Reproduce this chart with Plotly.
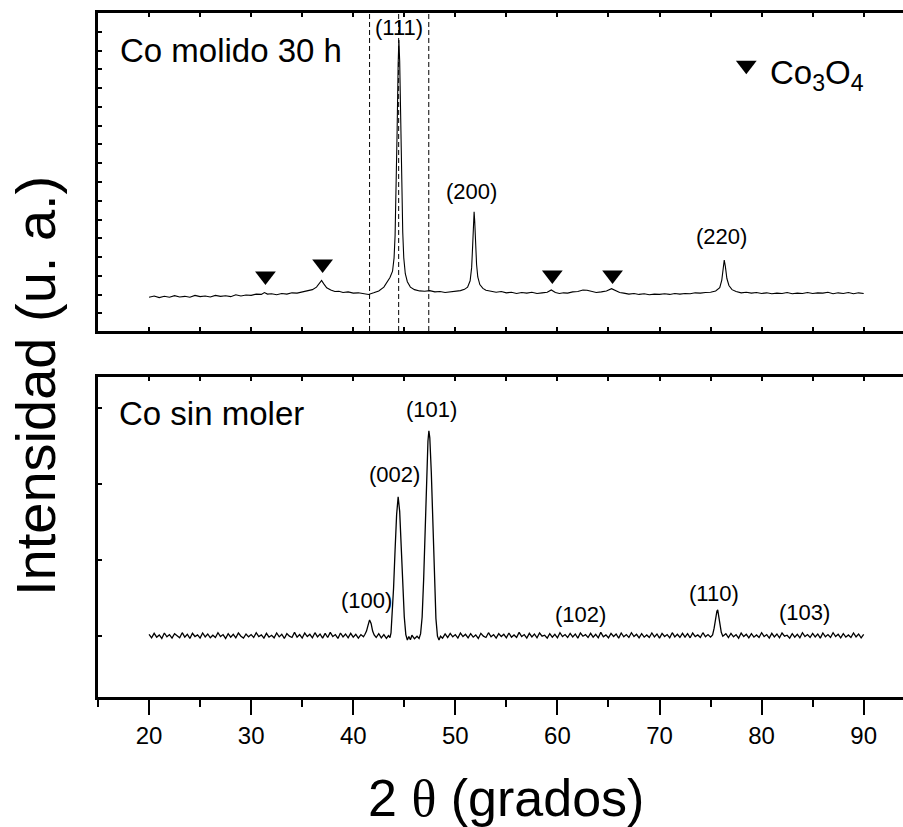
import plotly.graph_objects as go

# ---------------- data ----------------
# Top panel: "Co molido 30 h"
mol_2theta = [
    20.0, 20.5, 21.0, 21.5, 22.0, 22.5, 23.0, 23.5, 24.0, 24.5,
    25.0, 25.5, 26.0, 26.5, 27.0, 27.5, 28.0, 28.5, 29.0, 29.5,
    30.0, 30.5, 31.0, 31.3, 31.6, 32.0, 32.5, 33.0, 33.5, 34.0,
    34.5, 35.0, 35.5, 36.0, 36.4, 36.7, 36.9, 37.1, 37.4, 37.8,
    38.2, 38.6, 39.0, 39.5, 40.0, 40.5, 41.0, 41.5, 42.0, 42.5,
    43.0, 43.3, 43.6, 43.85, 44.0, 44.1, 44.2, 44.3, 44.4, 44.47,
    44.55, 44.65, 44.75, 44.85, 44.95, 45.1, 45.3, 45.6, 46.0, 46.5,
    47.0, 47.5, 48.0, 48.5, 49.0, 49.5, 50.0, 50.5, 50.9, 51.2,
    51.45, 51.6, 51.7, 51.78, 51.84, 51.9, 51.98, 52.08, 52.2, 52.4,
    52.7, 53.0, 53.5, 54.0, 54.5, 55.0, 55.5, 56.0, 56.5, 57.0,
    57.5, 58.0, 58.5, 59.0, 59.4, 59.8, 60.2, 60.6, 61.0, 61.5,
    62.0, 62.5, 62.9, 63.3, 63.8, 64.3, 64.8, 65.3, 65.7, 66.1,
    66.5, 67.0, 67.5, 68.0, 68.5, 69.0, 69.5, 70.0, 70.5, 71.0,
    71.5, 72.0, 72.5, 73.0, 73.5, 74.0, 74.5, 75.0, 75.5, 75.9,
    76.1, 76.25, 76.34, 76.45, 76.6, 76.8, 77.1, 77.5, 78.0, 78.5,
    79.0, 79.5, 80.0, 80.5, 81.0, 81.5, 82.0, 82.5, 83.0, 83.5,
    84.0, 84.5, 85.0, 85.5, 86.0, 86.5, 87.0, 87.5, 88.0, 88.5,
    89.0, 89.5, 90.0,
]
mol_int = [
    10.6, 11.0, 10.5, 10.9, 10.6, 11.1, 10.7, 10.9, 10.6, 11.2,
    10.8, 11.0, 10.7, 11.2, 10.9, 11.1, 10.8, 11.4, 11.0, 11.3,
    11.2, 11.6, 11.5, 12.1, 11.6, 11.7, 11.4, 11.8, 11.6, 12.0,
    11.9, 12.3, 12.5, 13.0, 13.8, 14.9, 15.9, 14.9, 13.6, 12.9,
    12.4, 12.5, 12.1, 12.3, 11.9, 12.0, 11.7, 11.5, 12.0, 12.6,
    13.8, 15.3, 16.8, 18.8, 23.0, 30.0, 43.0, 63.0, 84.0, 91.5,
    85.0, 64.0, 44.0, 31.0, 23.0, 18.0, 15.5, 13.8, 13.0, 12.6,
    12.5, 12.7, 12.3, 12.4, 12.1, 12.3, 12.4, 12.7, 13.1, 13.8,
    15.8, 20.0, 27.0, 34.0, 37.5, 34.5, 28.0, 21.0, 17.0, 14.6,
    13.4, 12.8, 12.5, 12.2, 12.4, 12.0, 12.2, 11.8, 12.1, 11.9,
    12.2, 11.8, 12.0, 12.2, 12.9, 12.1, 11.8, 12.0, 11.9, 12.3,
    12.4, 12.9, 12.8, 12.4, 12.1, 12.3, 12.6, 13.3, 12.6, 12.1,
    11.9, 11.6, 11.8, 11.5, 11.7, 11.4, 11.6, 11.5, 11.7, 11.5,
    11.8, 11.6, 11.8, 11.7, 12.0, 11.9, 12.1, 12.2, 12.6, 13.6,
    16.0, 20.5, 22.3, 20.3, 16.5, 14.3, 13.0, 12.4, 12.0, 12.2,
    11.9, 12.1, 11.8, 12.0, 11.7, 11.9, 11.8, 12.1, 11.7, 11.9,
    11.8, 12.1, 11.8, 12.0, 11.9, 12.2, 11.7, 12.0, 11.8, 12.1,
    11.7, 12.0, 11.8,
]

# Bottom panel: "Co sin moler"
sin_2theta = [
    20.00, 20.25, 20.50, 20.75, 21.00, 21.25, 21.50, 21.75, 22.00, 22.25,
    22.50, 22.75, 23.00, 23.25, 23.50, 23.75, 24.00, 24.25, 24.50, 24.75,
    25.00, 25.25, 25.50, 25.75, 26.00, 26.25, 26.50, 26.75, 27.00, 27.25,
    27.50, 27.75, 28.00, 28.25, 28.50, 28.75, 29.00, 29.25, 29.50, 29.75,
    30.00, 30.25, 30.50, 30.75, 31.00, 31.25, 31.50, 31.75, 32.00, 32.25,
    32.50, 32.75, 33.00, 33.25, 33.50, 33.75, 34.00, 34.25, 34.50, 34.75,
    35.00, 35.25, 35.50, 35.75, 36.00, 36.25, 36.50, 36.75, 37.00, 37.25,
    37.50, 37.75, 38.00, 38.25, 38.50, 38.75, 39.00, 39.25, 39.50, 39.75,
    40.00, 40.25, 40.50, 40.75, 41.00, 41.15, 41.30, 41.45, 41.60, 41.75,
    41.90, 42.05, 42.25, 42.50, 42.75, 43.00, 43.25, 43.45, 43.60, 43.70,
    43.80, 43.95, 44.10, 44.25, 44.40, 44.55, 44.70, 44.85, 45.00, 45.15,
    45.30, 45.45, 45.60, 45.75, 46.00, 46.25, 46.45, 46.60, 46.75, 46.90,
    47.05, 47.20, 47.32, 47.41, 47.50, 47.65, 47.80, 47.95, 48.10, 48.25,
    48.40, 48.55, 48.75, 49.00, 49.25, 49.50, 49.75, 50.00, 50.25, 50.50,
    50.75, 51.00, 51.25, 51.50, 51.75, 52.00, 52.25, 52.50, 52.75, 53.00,
    53.25, 53.50, 53.75, 54.00, 54.25, 54.50, 54.75, 55.00, 55.25, 55.50,
    55.75, 56.00, 56.25, 56.50, 56.75, 57.00, 57.25, 57.50, 57.75, 58.00,
    58.25, 58.50, 58.75, 59.00, 59.25, 59.50, 59.75, 60.00, 60.25, 60.50,
    60.75, 61.00, 61.25, 61.50, 61.75, 62.00, 62.25, 62.50, 62.75, 63.00,
    63.25, 63.50, 63.75, 64.00, 64.25, 64.50, 64.75, 65.00, 65.25, 65.50,
    65.75, 66.00, 66.25, 66.50, 66.75, 67.00, 67.25, 67.50, 67.75, 68.00,
    68.25, 68.50, 68.75, 69.00, 69.25, 69.50, 69.75, 70.00, 70.25, 70.50,
    70.75, 71.00, 71.25, 71.50, 71.75, 72.00, 72.25, 72.50, 72.75, 73.00,
    73.25, 73.50, 73.75, 74.00, 74.25, 74.50, 74.75, 75.00, 75.20, 75.35,
    75.50, 75.62, 75.70, 75.80, 75.92, 76.05, 76.20, 76.50, 76.75, 77.00,
    77.25, 77.50, 77.75, 78.00, 78.25, 78.50, 78.75, 79.00, 79.25, 79.50,
    79.75, 80.00, 80.25, 80.50, 80.75, 81.00, 81.25, 81.50, 81.75, 82.00,
    82.25, 82.50, 82.75, 83.00, 83.25, 83.50, 83.75, 84.00, 84.25, 84.50,
    84.75, 85.00, 85.25, 85.50, 85.75, 86.00, 86.25, 86.50, 86.75, 87.00,
    87.25, 87.50, 87.75, 88.00, 88.25, 88.50, 88.75, 89.00, 89.25, 89.50,
    89.75, 90.00,
]
sin_int = [
    19.6, 18.5, 19.9, 18.7, 19.4, 18.3, 20.0, 18.8, 19.5, 18.4,
    19.8, 19.0, 18.5, 20.1, 18.7, 19.6, 18.3, 19.9, 18.9, 19.4,
    18.4, 20.0, 18.8, 19.7, 18.5, 19.3, 18.6, 20.1, 18.9, 19.5,
    18.3, 19.8, 18.7, 19.6, 18.5, 20.0, 19.0, 18.4, 19.7, 18.8,
    19.5, 18.6, 20.1, 18.9, 19.4, 18.4, 19.9, 18.7, 19.3, 18.5,
    20.0, 18.8, 19.6, 18.3, 19.8, 19.0, 18.6, 20.2, 18.7, 19.5,
    18.4, 20.0, 18.9, 19.6, 18.5, 20.1, 18.8, 19.7, 18.4, 19.9,
    18.6, 20.2, 18.9, 19.5, 18.3, 20.0, 18.8, 19.7, 18.5, 19.9,
    18.7, 19.6, 18.4, 19.5, 18.8, 19.6, 20.6, 22.4, 24.1, 23.0,
    20.6, 19.4, 18.6, 19.8, 18.5, 19.5, 18.3, 19.2, 18.6, 20.0,
    24.5, 34.0, 46.0, 57.0, 62.6, 58.0, 47.0, 35.0, 25.0, 19.5,
    17.8, 18.9, 17.9, 19.3, 18.2, 19.0, 18.3, 19.8, 25.0, 37.0,
    53.0, 70.0, 80.0, 83.2, 81.0, 70.0, 53.0, 36.0, 24.5, 19.0,
    17.8, 19.0, 18.4, 19.7, 18.6, 19.9, 18.8, 19.5, 18.4, 20.0,
    18.9, 19.6, 18.5, 19.8, 18.7, 19.4, 18.3, 19.9, 19.0, 18.6,
    20.1, 18.8, 19.5, 18.4, 19.8, 18.9, 19.6, 18.5, 20.0, 18.7,
    19.4, 18.6, 20.2, 18.9, 19.5, 18.4, 19.9, 18.8, 19.7, 18.5,
    20.0, 19.0, 19.3, 18.4, 19.8, 18.7, 19.6, 18.5, 20.1, 18.9,
    19.5, 18.6, 19.9, 18.8, 19.7, 18.4, 20.0, 19.0, 19.5, 18.6,
    19.9, 18.7, 19.6, 18.5, 20.2, 18.8, 19.4, 18.5, 19.9, 18.9,
    19.7, 18.4, 20.0, 18.8, 19.5, 18.6, 20.1, 18.9, 19.6, 18.5,
    19.8, 18.7, 19.4, 18.6, 20.0, 18.8, 19.7, 18.4, 19.9, 18.9,
    19.5, 18.5, 20.1, 18.8, 19.6, 18.6, 19.9, 18.7, 19.8, 18.5,
    20.0, 18.9, 19.4, 18.6, 20.1, 18.8, 19.5, 18.7, 19.4, 21.5,
    24.8, 26.8, 27.2, 25.5, 22.5, 20.2, 19.0, 19.8, 18.6, 19.9,
    18.8, 19.5, 18.4, 20.0, 18.9, 19.6, 18.5, 19.8, 18.7, 19.4,
    18.6, 20.1, 18.9, 19.5, 18.4, 19.9, 18.8, 19.7, 18.5, 20.0,
    19.0, 19.3, 18.4, 19.8, 18.7, 19.6, 18.5, 20.1, 18.9, 19.5,
    18.6, 19.9, 18.8, 19.7, 18.4, 20.0, 18.8, 19.5, 18.6, 20.1,
    18.9, 19.6, 18.5, 19.8, 18.7, 19.4, 18.6, 20.0, 18.8, 19.7,
    18.5, 19.6,
]

# Co3O4 reflections marked with triangles (top panel)
co3o4_2theta = [31.4, 37.0, 59.5, 65.4]
co3o4_mark_y = [17.3, 21.1, 17.6, 17.6]
legend_mark_2theta = [78.5]
legend_mark_y = [83.6]

# reference dashed lines (top panel)
ref_lines_2theta = [41.6, 44.45, 47.4]

# peak labels
top_labels = ["(111)", "(200)", "(220)"]
top_label_x = [44.5, 51.6, 76.1]
top_label_y = [95.3, 43.8, 29.7]
bot_labels = ["(100)", "(002)", "(101)", "(102)", "(110)", "(103)"]
bot_label_x = [41.3, 44.08, 47.67, 62.25, 75.3, 84.2]
bot_label_y = [30.3, 69.4, 89.7, 25.9, 32.4, 26.5]

x_ticks = [20, 30, 40, 50, 60, 70, 80, 90]

# ---------------- figure ----------------
FONT = "Liberation Sans, Arial, sans-serif"
XR = [15, 93.85]

fig = go.Figure()
fig.add_trace(go.Scatter(x=mol_2theta, y=mol_int, mode="lines",
                         line=dict(color="black", width=1.1),
                         xaxis="x", yaxis="y", showlegend=False, hoverinfo="skip"))
fig.add_trace(go.Scatter(x=sin_2theta, y=sin_int, mode="lines",
                         line=dict(color="black", width=1.3),
                         xaxis="x2", yaxis="y2", showlegend=False, hoverinfo="skip"))
fig.add_trace(go.Scatter(x=co3o4_2theta, y=co3o4_mark_y, mode="markers",
                         marker=dict(symbol="triangle-down", size=18, color="black"),
                         xaxis="x", yaxis="y", showlegend=False, hoverinfo="skip"))
fig.add_trace(go.Scatter(x=legend_mark_2theta, y=legend_mark_y, mode="markers",
                         marker=dict(symbol="triangle-down", size=18, color="black"),
                         xaxis="x", yaxis="y", showlegend=False, hoverinfo="skip"))
# invisible trace so the top tick axis of the lower panel is drawn
fig.add_trace(go.Scatter(x=[50], y=[-50], mode="markers", marker=dict(opacity=0),
                         xaxis="x3", yaxis="y2", showlegend=False, hoverinfo="skip"))

for xv in ref_lines_2theta:
    fig.add_shape(type="line", xref="x", yref="y domain", x0=xv, x1=xv, y0=0, y1=1,
                  line=dict(color="black", width=1, dash="5px,3px"))

ann = []
ann.append(dict(text="Co molido 30 h", xref="x domain", yref="y domain", x=0.0248, y=0.8836,
                xanchor="left", yanchor="middle", showarrow=False,
                font=dict(family=FONT, size=33, color="black")))
ann.append(dict(text="Co sin moler", xref="x2 domain", yref="y2 domain", x=0.0232, y=0.886,
                xanchor="left", yanchor="middle", showarrow=False,
                font=dict(family=FONT, size=33, color="black")))
ann.append(dict(text="Co<sub>3</sub>O<sub>4</sub>", xref="x", yref="y", x=80.6, y=80.5,
                xanchor="left", yanchor="middle", showarrow=False,
                font=dict(family=FONT, size=33, color="black")))
for t, xv, yv in zip(top_labels, top_label_x, top_label_y):
    ann.append(dict(text=t, xref="x", yref="y", x=xv, y=yv, showarrow=False,
                    xanchor="center", yanchor="middle",
                    font=dict(family=FONT, size=22, color="black")))
for t, xv, yv in zip(bot_labels, bot_label_x, bot_label_y):
    ann.append(dict(text=t, xref="x2", yref="y2", x=xv, y=yv, showarrow=False,
                    xanchor="center", yanchor="middle",
                    font=dict(family=FONT, size=22, color="black")))
ann.append(dict(text="Intensidad (u. a.)", xref="paper", yref="paper", x=-0.077, y=0.4547,
                textangle=-90, xanchor="center", yanchor="middle", showarrow=False,
                font=dict(family=FONT, size=56, color="black")))
ann.append(dict(text="2 <span style='font-family:Liberation Serif'>θ</span> (grados)",
                xref="paper", yref="paper", x=0.5068, y=-0.1477,
                xanchor="center", yanchor="middle", showarrow=False,
                font=dict(family=FONT, size=52, color="black")))

common_line = dict(showline=True, linecolor="black", linewidth=2.5, showgrid=False,
                   zeroline=False)

fig.update_layout(
    width=903, height=827,
    margin=dict(l=98, r=0, t=13, b=130),
    paper_bgcolor="white", plot_bgcolor="white",
    annotations=ann,
    xaxis=dict(domain=[0, 1], anchor="y", range=XR, mirror="allticks",
               ticks="inside", ticklen=4, tickwidth=1.5, tickcolor="black",
               tick0=15, dtick=5, showticklabels=False, **common_line),
    yaxis=dict(domain=[0.5351, 1], anchor="x", range=[0, 100],
               ticks="inside", ticklen=4, tickwidth=1.5, tickcolor="black",
               tick0=5.55, dtick=5.9, showticklabels=False, **common_line),
    xaxis2=dict(domain=[0, 1], anchor="y2", range=XR, mirror=True,
                ticks="outside", ticklen=15, tickwidth=1.8, tickcolor="black",
                tickmode="array", tickvals=x_ticks, ticktext=[str(v) for v in x_ticks],
                tickfont=dict(family=FONT, size=24, color="black"),
                minor=dict(ticks="outside", ticklen=7, tickwidth=1.8, tickcolor="black",
                           tick0=15, dtick=5, showgrid=False),
                **common_line),
    xaxis3=dict(overlaying="x2", anchor="y2", side="top", range=XR,
                ticks="inside", ticklen=4, tickwidth=1.5, tickcolor="black",
                tick0=15, dtick=5, showticklabels=False, showline=False,
                showgrid=False, zeroline=False),
    yaxis2=dict(domain=[0, 0.4678], anchor="x2", range=[0, 100],
                ticks="inside", ticklen=4, tickwidth=1.5, tickcolor="black",
                tick0=19.1, dtick=23.75, showticklabels=False, **common_line),
)

fig.write_html("out.html")
